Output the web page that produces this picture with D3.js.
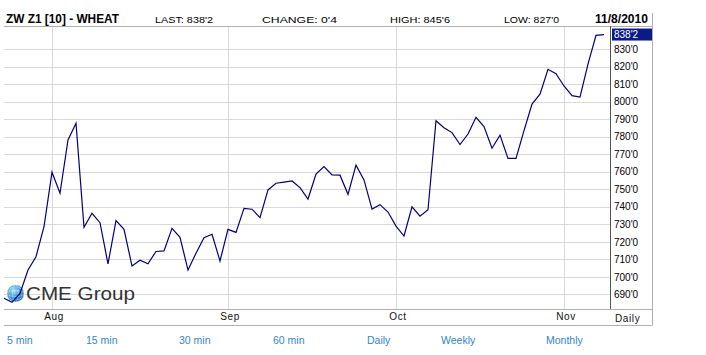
<!DOCTYPE html>
<html>
<head>
<meta charset="utf-8">
<script src="https://cdn.jsdelivr.net/npm/d3@7"></script>
<style>
  body { margin: 0; background: #fff; }
  text { font-family: "Liberation Sans", Arial, sans-serif; }
</style>
</head>
<body>
<div id="chart"></div>
<script>
// daily settles, ZW Z1 wheat
const dates = [
  "2010-07-23","2010-07-26","2010-07-27","2010-07-28","2010-07-29","2010-07-30",
  "2010-08-02","2010-08-03","2010-08-04","2010-08-05","2010-08-06","2010-08-09","2010-08-10","2010-08-11",
  "2010-08-12","2010-08-13","2010-08-16","2010-08-17","2010-08-18","2010-08-19","2010-08-20","2010-08-23",
  "2010-08-24","2010-08-25","2010-08-26","2010-08-27","2010-08-30","2010-08-31",
  "2010-09-01","2010-09-02","2010-09-03","2010-09-07","2010-09-08","2010-09-09","2010-09-10","2010-09-13",
  "2010-09-14","2010-09-15","2010-09-16","2010-09-17","2010-09-20","2010-09-21","2010-09-22","2010-09-23",
  "2010-09-24","2010-09-27","2010-09-28","2010-09-29","2010-09-30",
  "2010-10-01","2010-10-04","2010-10-05","2010-10-06","2010-10-07","2010-10-08","2010-10-11","2010-10-12",
  "2010-10-13","2010-10-14","2010-10-15","2010-10-18","2010-10-19","2010-10-20","2010-10-21","2010-10-22",
  "2010-10-25","2010-10-26","2010-10-27","2010-10-28","2010-10-29",
  "2010-11-01","2010-11-02","2010-11-03","2010-11-04","2010-11-05","2010-11-08"
];
const prices = [
  687.8, 685.5, 690.6, 703.9, 711.5, 728.6,
  759.7, 747.7, 778.1, 787.6, 728.3, 736.3, 730.9, 707.4,
  732.1, 727.1, 706.2, 709.5, 707.5, 714.5, 714.8, 727.7,
  722.6, 703.9, 713.5, 722.4, 724.3, 709.1,
  727.1, 725.4, 739.1, 738.6, 733.8, 749.6, 753.4, 754.0,
  754.7, 750.9, 744.4, 758.7, 762.9, 758.1, 758.0, 747.1,
  763.7, 755.3, 738.7, 741.2, 737.0,
  729.0, 723.3, 740.0, 734.6, 738.3, 789.1, 785.1, 782.3,
  775.5, 781.5, 791.0, 785.7, 773.4, 780.9, 767.6, 767.6,
  783.4, 798.6, 804.2, 818.4, 815.9,
  808.9, 803.4, 802.6, 821.4, 837.75, 838.25
];
const yTicks = [690, 700, 710, 720, 730, 740, 750, 760, 770, 780, 790, 800, 810, 820, 830];
const monthTicks = ["2010-08-02", "2010-09-01", "2010-10-01", "2010-11-01"];
const monthLabels = ["Aug", "Sep", "Oct", "Nov"];
const headerTitle = "ZW Z1 [10] - WHEAT";
const headerStats = ["LAST: 838'2", "CHANGE: 0'4", "HIGH: 845'6", "LOW: 827'0"];
const headerDate = "11/8/2010";
const lastLabel = "838'2";
const periodLinks = ["5 min", "15 min", "30 min", "60 min", "Daily", "Weekly", "Monthly"];

const WIDTH = 706, HEIGHT = 355;
const LEFT = 4, AXIS_X = 611, RIGHT = 652, TOP = 26, BOTTOM = 309, LABEL_ROW = 325;

const svg = d3.select("#chart").append("svg")
    .attr("width", WIDTH)
    .attr("height", HEIGHT);

const x = d3.scalePoint().domain(dates).range([LEFT, 604]);
const y = d3.scaleLinear().domain([690, 830]).range([294.4, 49]);

// grid
svg.append("g").selectAll("line.h")
    .data(yTicks).enter().append("line")
    .attr("x1", LEFT).attr("x2", AXIS_X)
    .attr("y1", d => Math.round(y(d)) + 0.5).attr("y2", d => Math.round(y(d)) + 0.5)
    .attr("stroke", "#d9d9d9");
svg.append("g").selectAll("line.v")
    .data(monthTicks).enter().append("line")
    .attr("x1", d => Math.round(x(d)) + 0.5).attr("x2", d => Math.round(x(d)) + 0.5)
    .attr("y1", TOP).attr("y2", BOTTOM)
    .attr("stroke", "#d9d9d9");

// frame
const frame = svg.append("g").attr("fill", "none").attr("stroke", "#b0b0b0");
frame.append("line").attr("x1", LEFT).attr("x2", RIGHT).attr("y1", TOP + 0.5).attr("y2", TOP + 0.5);
frame.append("line").attr("x1", LEFT).attr("x2", RIGHT).attr("y1", BOTTOM + 0.5).attr("y2", BOTTOM + 0.5);
frame.append("line").attr("x1", LEFT).attr("x2", RIGHT).attr("y1", LABEL_ROW + 0.5).attr("y2", LABEL_ROW + 0.5);
frame.append("line").attr("x1", RIGHT + 0.5).attr("x2", RIGHT + 0.5).attr("y1", 13).attr("y2", LABEL_ROW + 0.5);
svg.append("line").attr("x1", AXIS_X - 0.5).attr("x2", AXIS_X - 0.5).attr("y1", TOP).attr("y2", BOTTOM)
    .attr("stroke", "#555");

// CME Group watermark
const defs = svg.append("defs");
const grad = defs.append("radialGradient").attr("id", "globe").attr("cx", "40%").attr("cy", "35%").attr("r", "65%");
grad.append("stop").attr("offset", "0%").attr("stop-color", "#b5e4f7");
grad.append("stop").attr("offset", "55%").attr("stop-color", "#3a9ad8");
grad.append("stop").attr("offset", "100%").attr("stop-color", "#11609f");
const logo = svg.append("g");
logo.append("circle").attr("cx", 15.5).attr("cy", 293.5).attr("r", 8.5).attr("fill", "url(#globe)");
[[0, 8.5, 3], [0, 8.5, 6.5], [3, 8.5, 0], [6.5, 8.5, 0]].forEach(([rx0, r, ry0]) => {
  logo.append("ellipse").attr("cx", 15.5).attr("cy", 293.5)
      .attr("rx", rx0 || r).attr("ry", ry0 || r)
      .attr("fill", "none").attr("stroke", "#fff").attr("stroke-opacity", 0.45).attr("stroke-width", 0.7);
});
logo.append("text").attr("x", 26).attr("y", 299.5)
    .attr("font-size", 19).attr("fill", "#333")
    .attr("textLength", 109).attr("lengthAdjust", "spacingAndGlyphs")
    .text("CME Group");

// price line
svg.append("path")
    .datum(prices)
    .attr("fill", "none")
    .attr("stroke", "#000080")
    .attr("stroke-width", 1.2)
    .attr("d", d3.line().x((d, i) => x(dates[i])).y(d => y(d)));

// right axis
const yAxis = svg.append("g")
    .attr("transform", `translate(${AXIS_X},0)`)
    .call(d3.axisRight(y).tickValues(yTicks).tickFormat(d => d + "'0").tickSize(0).tickPadding(3));
yAxis.select(".domain").remove();
yAxis.selectAll("text").attr("font-size", 10).attr("fill", "#000")
    .attr("font-family", "'Liberation Sans', Arial, sans-serif");

// last price marker
const lastY = y(prices[prices.length - 1]);
svg.append("rect").attr("x", AXIS_X + 1).attr("y", lastY - 6).attr("width", RIGHT - AXIS_X - 1).attr("height", 12)
    .attr("fill", "#0a1a86");
svg.append("text").attr("x", AXIS_X + 3).attr("y", lastY + 3.5)
    .attr("font-size", 10).attr("fill", "#fff").text(lastLabel);

// bottom axis
const xAxis = svg.append("g")
    .attr("transform", `translate(1.5,${BOTTOM})`)
    .call(d3.axisBottom(x).tickValues(monthTicks).tickFormat((d, i) => monthLabels[i]).tickSize(0).tickPadding(4));
xAxis.select(".domain").remove();
xAxis.selectAll("text").attr("font-size", 10).attr("fill", "#111")
    .attr("letter-spacing", 0.6).attr("font-family", "'Liberation Sans', Arial, sans-serif");
svg.append("text").attr("x", 615).attr("y", 322).attr("font-size", 10).attr("fill", "#111")
    .attr("letter-spacing", 0.6).text("Daily");

// header
svg.append("text").attr("x", 6).attr("y", 22.5)
    .attr("font-size", 13).attr("font-weight", "bold").attr("fill", "#000")
    .attr("textLength", 113).attr("lengthAdjust", "spacingAndGlyphs")
    .text(headerTitle);
const statX = [155, 262, 390, 504];
const statW = [58, 75, 60, 55];
svg.append("g").selectAll("text")
    .data(headerStats).enter().append("text")
    .attr("x", (d, i) => statX[i]).attr("y", 22.5)
    .attr("font-size", 9.5).attr("fill", "#000")
    .attr("textLength", (d, i) => statW[i]).attr("lengthAdjust", "spacingAndGlyphs")
    .text(d => d);
svg.append("text").attr("x", 595).attr("y", 22.5)
    .attr("font-size", 13).attr("font-weight", "bold").attr("fill", "#000")
    .attr("textLength", 53).attr("lengthAdjust", "spacingAndGlyphs")
    .text(headerDate);

// period links
const linkX = [7, 86, 179, 273, 367, 441, 546];
svg.append("g").selectAll("text")
    .data(periodLinks).enter().append("text")
    .attr("x", (d, i) => linkX[i]).attr("y", 344)
    .attr("font-size", 10.5).attr("fill", "#2f86d4")
    .text(d => d);
</script>
</body>
</html>
